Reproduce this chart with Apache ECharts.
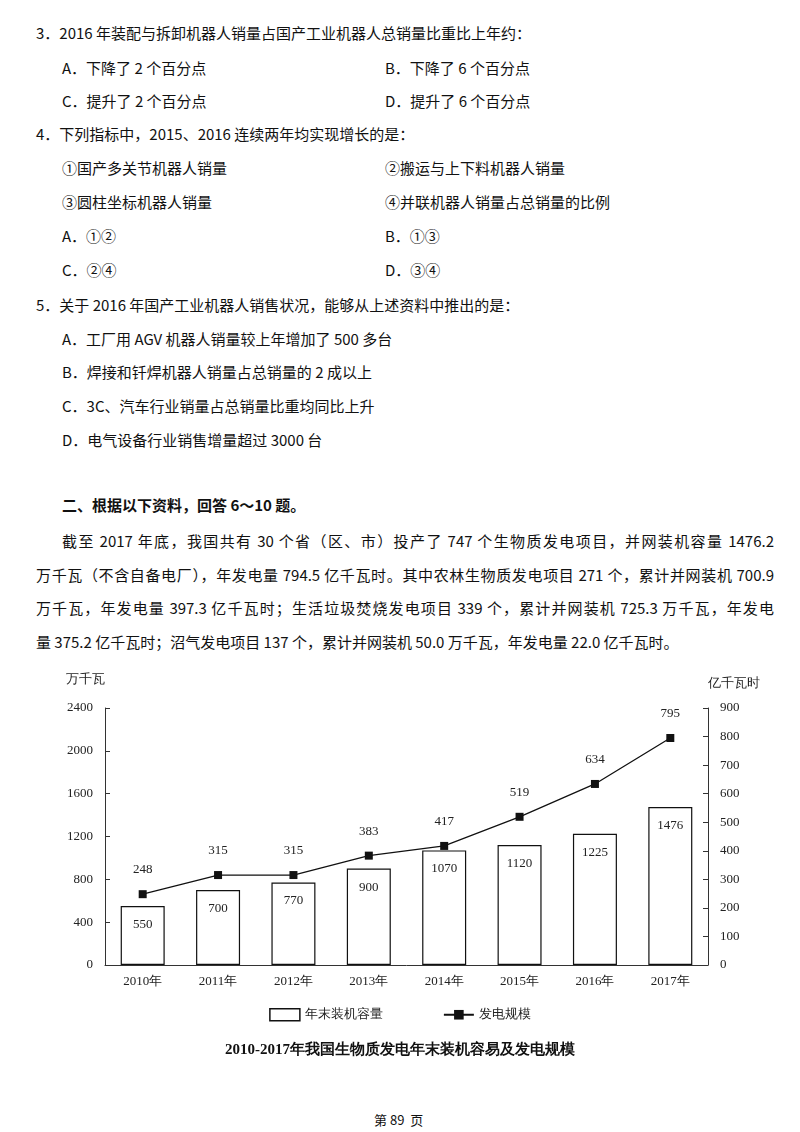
<!DOCTYPE html>
<html><head><meta charset="utf-8">
<script src="https://cdn.jsdelivr.net/npm/echarts@6/dist/echarts.min.js"></script>
<style>
body{margin:0;width:800px;height:1132px;background:#fff;position:relative;font-family:"Noto Sans CJK SC",sans-serif;color:#111;}
.t{position:absolute;font-size:15px;white-space:nowrap;line-height:20px;}
.j{position:absolute;left:36px;width:738px;font-size:15px;line-height:20px;white-space:nowrap;text-align:justify;text-align-last:justify;}
#c{position:absolute;left:0;top:660px;width:800px;height:420px;}
</style></head><body>
<div class="t" style="left:36px;top:23px">3．2016 年装配与拆卸机器人销量占国产工业机器人总销量比重比上年约：</div>
<div class="t" style="left:62px;top:58px">A．下降了 2 个百分点</div>
<div class="t" style="left:385px;top:58px">B．下降了 6 个百分点</div>
<div class="t" style="left:62px;top:91px">C．提升了 2 个百分点</div>
<div class="t" style="left:385px;top:91px">D．提升了 6 个百分点</div>
<div class="t" style="left:36px;top:124px">4．下列指标中，2015、2016 连续两年均实现增长的是：</div>
<div class="t" style="left:62px;top:158px">①国产多关节机器人销量</div>
<div class="t" style="left:385px;top:158px">②搬运与上下料机器人销量</div>
<div class="t" style="left:62px;top:192px">③圆柱坐标机器人销量</div>
<div class="t" style="left:385px;top:192px">④并联机器人销量占总销量的比例</div>
<div class="t" style="left:62px;top:226px">A．①②</div>
<div class="t" style="left:385px;top:226px">B．①③</div>
<div class="t" style="left:62px;top:260px">C．②④</div>
<div class="t" style="left:385px;top:260px">D．③④</div>
<div class="t" style="left:36px;top:295px">5．关于 2016 年国产工业机器人销售状况，能够从上述资料中推出的是：</div>
<div class="t" style="left:62px;top:329px">A．工厂用 AGV 机器人销量较上年增加了 500 多台</div>
<div class="t" style="left:62px;top:362px">B．焊接和钎焊机器人销量占总销量的 2 成以上</div>
<div class="t" style="left:62px;top:396px">C．3C、汽车行业销量占总销量比重均同比上升</div>
<div class="t" style="left:62px;top:430px">D．电气设备行业销售增量超过 3000 台</div>
<div class="t" style="left:62px;top:495px;font-weight:bold">二、根据以下资料，回答 6～10 题。</div>
<div class="j" style="left:62px;width:712px;top:531px">截至 2017 年底，我国共有 30 个省（区、市）投产了 747 个生物质发电项目，并网装机容量 1476.2</div>
<div class="j" style="top:565px">万千瓦（不含自备电厂），年发电量 794.5 亿千瓦时。其中农林生物质发电项目 271 个，累计并网装机 700.9</div>
<div class="j" style="top:598px">万千瓦，年发电量 397.3 亿千瓦时；生活垃圾焚烧发电项目 339 个，累计并网装机 725.3 万千瓦，年发电</div>
<div class="t" style="left:36px;top:632px">量 375.2 亿千瓦时；沼气发电项目 137 个，累计并网装机 50.0 万千瓦，年发电量 22.0 亿千瓦时。</div>
<div id="c"></div>
<div class="t" style="left:374px;top:1110px;font-size:13px">第&nbsp;89&nbsp;&nbsp;页</div>
<script>
var years=['2010年','2011年','2012年','2013年','2014年','2015年','2016年','2017年'];
var capacity=[550,700,770,900,1070,1120,1225,1476];
var generation=[248,315,315,383,417,519,634,795];
var f='"Liberation Serif","DejaVu Serif",serif';
var ch=echarts.init(document.getElementById('c'));
ch.setOption({
 animation:false,
 textStyle:{fontFamily:f,color:'#222'},
 title:{text:'2010-2017年我国生物质发电年末装机容易及发电规模',left:'center',top:378,textStyle:{fontSize:15,fontWeight:'bold',color:'#111',fontFamily:f}},
 legend:{top:343,left:'center',itemGap:60,textStyle:{fontSize:13,color:'#222'},
  data:[{name:'年末装机容量',icon:'rect',itemStyle:{color:'#fff',borderColor:'#111',borderWidth:1.5}},{name:'发电规模'}],itemWidth:30,itemHeight:12},
 grid:{left:105,right:92,top:48,bottom:115},
 xAxis:{type:'category',data:years,axisLine:{lineStyle:{color:'#333'}},axisTick:{show:false},axisLabel:{color:'#222',fontSize:13,margin:10}},
 yAxis:[
  {type:'value',min:0,max:2400,interval:400,name:'万千瓦',nameLocation:'end',nameGap:22,nameTextStyle:{align:'right',color:'#222',fontSize:13},
   axisLine:{show:true,lineStyle:{color:'#333'}},axisTick:{show:true,inside:true},splitLine:{show:false},axisLabel:{color:'#222',fontSize:13,margin:12,formatter:function(v){return String(v);}}},
  {type:'value',min:0,max:900,interval:100,name:'亿千瓦时',nameLocation:'end',nameGap:18,nameTextStyle:{align:'left',color:'#222',fontSize:13},
   axisLine:{show:true,lineStyle:{color:'#333'}},axisTick:{show:true,inside:true},splitLine:{show:false},axisLabel:{color:'#222',fontSize:13,margin:12,formatter:function(v){return String(v);}}}
 ],
 series:[
  {name:'年末装机容量',type:'bar',data:capacity,barWidth:44,itemStyle:{color:'#fff',borderColor:'#111',borderWidth:1.2},
   label:{show:true,position:'insideTop',distance:12,color:'#222',fontSize:13}},
  {name:'发电规模',type:'line',yAxisIndex:1,data:generation,symbol:'rect',symbolSize:8,lineStyle:{color:'#111',width:1.3},itemStyle:{color:'#111'},
   label:{show:true,position:'top',distance:14,color:'#222',fontSize:13}}
 ]
});
</script></body></html>
